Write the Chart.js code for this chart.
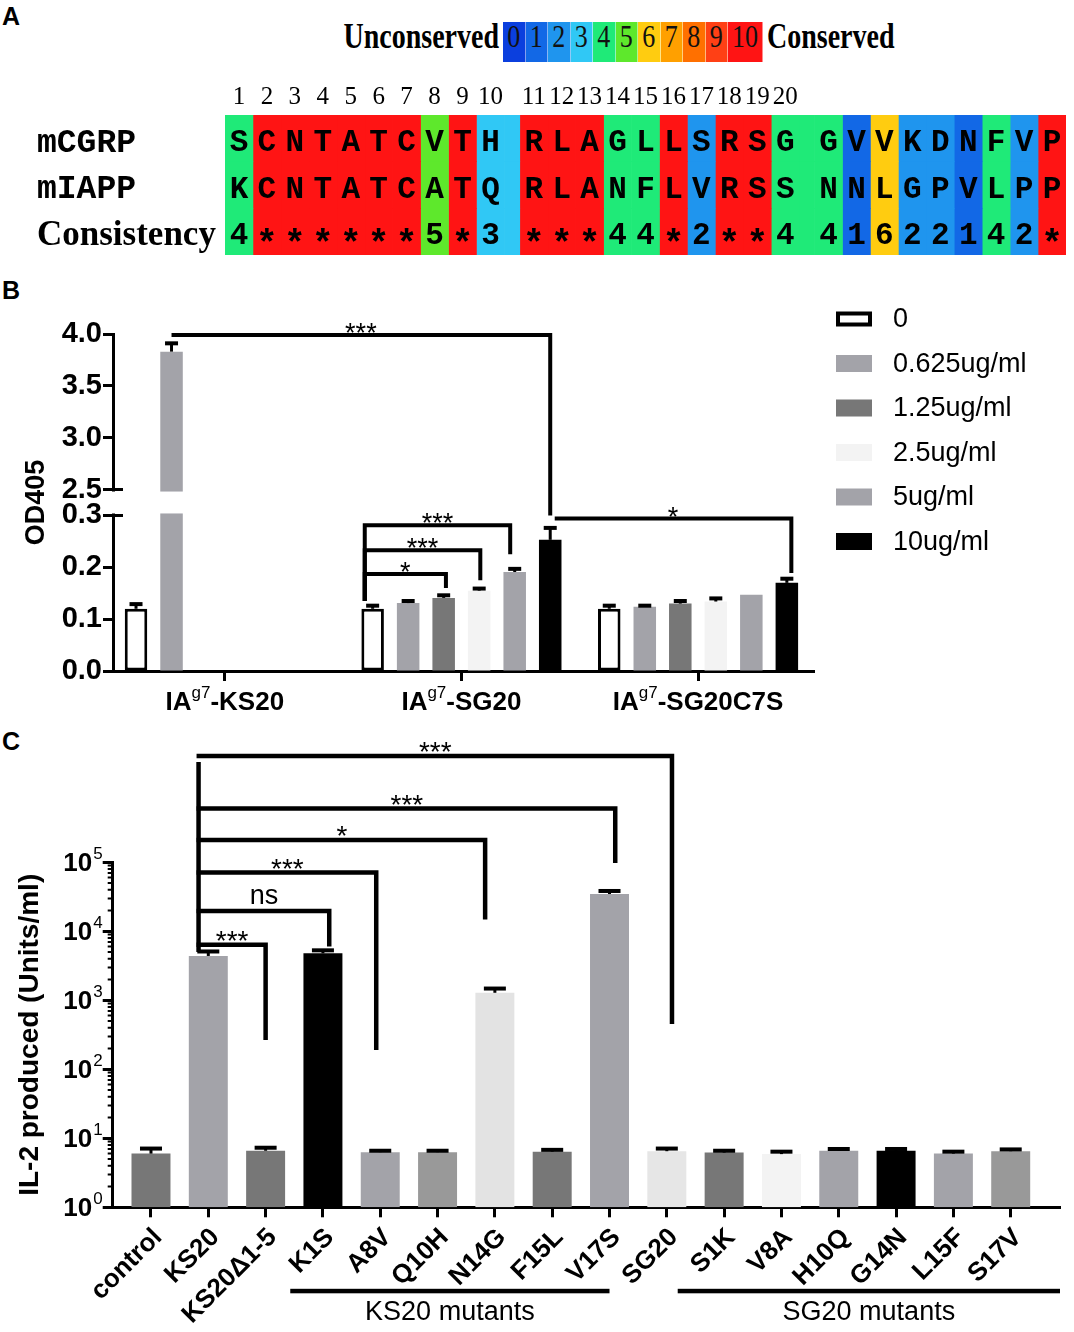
<!DOCTYPE html>
<html>
<head>
<meta charset="utf-8">
<title>Figure</title>
<script src="https://cdn.jsdelivr.net/npm/chart.js@4.4.1/dist/chart.umd.min.js"></script>
<style>
html,body{margin:0;padding:0;background:#fff;}
body{width:1074px;height:1332px;position:relative;overflow:hidden;}
canvas{position:absolute;left:0;}
.panel{position:absolute;left:2px;font:bold 25px 'Liberation Sans',Arial,sans-serif;color:#000;}
.keytxt{position:absolute;top:22px;height:40px;line-height:40px;font:bold 28px 'Liberation Serif',serif;color:#000;transform:scaleY(1.25);white-space:nowrap;}
#keyBoxes{position:absolute;left:503px;top:22px;height:40px;display:flex;}
#keyBoxes div{height:40px;line-height:40px;text-align:center;font:26px 'Liberation Serif',serif;color:#111;box-sizing:border-box;border-right:1px solid rgba(255,255,255,0.5);}
#keyBoxes span{display:inline-block;transform:scaleY(1.25);}
</style>
</head>
<body>
<div class="panel" style="top:2px">A</div>
<div class="panel" style="top:276px">B</div>
<div class="panel" style="top:727px">C</div>
<div class="keytxt" style="left:0;width:499px;text-align:right">Unconserved</div>
<div id="keyBoxes"></div>
<div class="keytxt" style="left:767px">Conserved</div>
<canvas id="cA" width="1074" height="185" style="top:80px"></canvas>
<canvas id="cB" width="1074" height="440" style="top:280px"></canvas>
<canvas id="cC" width="1074" height="612" style="top:720px"></canvas>
<script>
Chart.defaults.font.family = "'Liberation Sans', Arial, sans-serif";
Chart.defaults.color = '#000';
Chart.defaults.animation = false;

/* ================= Panel A data ================= */
const rowNames = ['mCGRP', 'mIAPP', 'Consistency'];
const seqCGRP = ['S','C','N','T','A','T','C','V','T','H','-','R','L','A','G','L','L','S','R','S','G','-','G','V','V','K','D','N','F','V','P'];
const seqIAPP = ['K','C','N','T','A','T','C','A','T','Q','-','R','L','A','N','F','L','V','R','S','S','-','N','N','L','G','P','V','L','P','P'];
const consensus = ['4','*','*','*','*','*','*','5','*','3','-','*','*','*','4','4','*','2','*','*','4','-','4','1','6','2','2','1','4','2','*'];
const positionLabels = ['1','2','3','4','5','6','7','8','9','10','11','12','13','14','15','16','17','18','19','20'];
const keyLevels = ['0','1','2','3','4','5','6','7','8','9','10'];
const keyColors = ['#0b3fde','#1268e6','#1f95ee','#30c8f5','#1fea78','#5ee82c','#ffcc10','#ffa000','#ff7000','#ff4015','#ff1414'];

/* ================= Panel B data ================= */
const groupsB = ['-KS20', '-SG20', '-SG20C7S'];
const groupPrefixB = 'IA';
const groupSupB = 'g7';
const concLabels = ['0', '0.625ug/ml', '1.25ug/ml', '2.5ug/ml', '5ug/ml', '10ug/ml'];
const od_0     = [0.120, 0.120, 0.120];
const od_0625  = [3.83,  0.131, 0.124];
const od_125   = [null,  0.141, 0.130];
const od_25    = [null,  0.155, 0.134];
const od_5     = [null,  0.191, 0.147];
const od_10    = [null,  0.253, 0.170];
const up_0     = [0.129, 0.126, 0.126];
const up_0625  = [3.91,  0.135, 0.126];
const up_125   = [null,  0.146, 0.135];
const up_25    = [null,  0.159, 0.140];
const up_5     = [null,  0.197, null];
const up_10    = [null,  0.276, 0.178];
const yTicksB = [0, 0.1, 0.2, 0.3, 2.5, 3.0, 3.5, 4.0];
const yTickLabelsB = ['0.0','0.1','0.2','0.3','2.5','3.0','3.5','4.0'];
const colorsB = ['#ffffff', '#a3a3a9', '#777777', '#f3f3f3', '#a3a3a9', '#000000'];
// brackets: ends = [group, series, offset in bar widths]
const bracketsB = [
  {a:[0,1,0],     b:[1,5,0],     h:3.99,  aEnd:null,  bEnd:0.30,  label:'***'},
  {a:[1,0,-0.35], b:[1,2,0.1],   h:0.187, aEnd:0.135, bEnd:0.160, label:'*'},
  {a:[1,0,-0.35], b:[1,3,0.05],  h:0.233, aEnd:0.135, bEnd:0.175, label:'***'},
  {a:[1,0,-0.35], b:[1,4,-0.2],  h:0.281, aEnd:0.135, bEnd:0.225, label:'***'},
  {a:[1,5,0.2],   b:[2,5,0.2],   h:0.294, aEnd:null,  bEnd:0.189, label:'*'}
];

/* ================= Panel C data ================= */
const peptidesC = ['control','KS20','KS20\u03941-5','K1S','A8V','Q10H','N14G','F15L','V17S','SG20','S1K','V8A','H10Q','G14N','L15F','S17V'];
const il2Mean  = [6.0, 4390, 6.6, 4790, 6.3, 6.3, 1285, 6.4, 34700, 6.5, 6.2, 5.9, 6.6, 6.6, 6.0, 6.5];
const il2Upper = [7.1, 5100, 7.3, 5300, 6.6, 6.6, 1480, 6.8, 38400, 7.1, 6.6, 6.4, 7.0, 7.0, 6.4, 6.9];
const il2Colors = ['#777777','#a3a3a9','#777777','#000000','#a3a3a9','#999999','#e3e3e3','#777777','#a3a3a9','#e6e6e6','#777777','#f3f3f3','#a3a3a9','#000000','#a3a3a9','#999999'];
const yPowersC = [0,1,2,3,4,5];
const groupsC = [{label:'KS20 mutants', first:'K1S', last:'V17S'}, {label:'SG20 mutants', first:'S1K', last:'S17V'}];
const bracketOriginC = {name:'KS20', top:2.84e6, bottom:5000};
const bracketsC = [
  {to:'SG20',     h:3.47e6, end:452,    label:'***'},
  {to:'V17S',     h:6.0e5,  end:9.8e4,  label:'***'},
  {to:'N14G',     h:2.1e5,  end:1.48e4, label:'*'},
  {to:'A8V',      h:7.1e4,  end:190,    label:'***'},
  {to:'K1S',      h:1.97e4, end:6000,   label:'ns'},
  {to:'KS20\u03941-5', h:6.4e3, end:266, label:'***'}
];
const bracketDxC = {'SG20':0.09,'V17S':0.10,'N14G':-0.17,'A8V':-0.07,'K1S':0.11,'KS20\u03941-5':0};

/* ================= Key (colour scale) ================= */
const kb = document.getElementById('keyBoxes');
keyLevels.forEach((lv, i) => {
  const d = document.createElement('div');
  d.style.width = (lv.length > 1 ? 35 : 22.5) + 'px';
  d.style.background = keyColors[i];
  d.innerHTML = '<span>' + lv + '</span>';
  kb.appendChild(d);
});

/* ================= Panel A chart ================= */
const colStart = [], colEnd = [];
let acc = 0;
seqCGRP.forEach(c => { colStart.push(acc); acc += (c === '-' ? 0.55 : 1); colEnd.push(acc); });
const totalW = acc;
const levelOf = [];
consensus.forEach((c, j) => levelOf.push(c === '-' ? levelOf[j - 1] : (c === '*' ? 10 : +c)));
const letterCols = [];
seqCGRP.forEach((c, j) => { if (c !== '-') letterCols.push(colStart[j] + 0.5); });
const headerCenters = letterCols.slice(0, positionLabels.length);

const alignText = {
  id: 'alignText',
  afterDatasetsDraw(chart) {
    const {ctx, scales: {x, y}} = chart;
    ctx.save();
    ctx.fillStyle = '#000';
    ctx.textAlign = 'center';
    ctx.textBaseline = 'middle';
    [seqCGRP, seqIAPP, consensus].forEach((row, r) => {
      const yc = y.getPixelForValue(r) + 5;
      row.forEach((c, j) => {
        if (c === '-') return;
        const xc = x.getPixelForValue(colStart[j] + 0.5);
        if (c === '*') {
          ctx.font = 'bold 36px "Liberation Mono", monospace';
          ctx.fillText(c, xc, yc + 9);
        } else {
          ctx.font = 'bold 31px "Liberation Mono", monospace';
          ctx.fillText(c, xc, yc);
        }
      });
    });
    ctx.textAlign = 'left';
    rowNames.forEach((n, r) => {
      ctx.font = r === 2 ? 'bold 35px "Liberation Serif", serif' : 'bold 33px "Liberation Mono", monospace';
      ctx.fillText(n, 37, y.getPixelForValue(r) + (r === 2 ? 4 : 5));
    });
    ctx.restore();
  }
};

new Chart(document.getElementById('cA'), {
  type: 'bar',
  data: {
    labels: rowNames,
    datasets: seqCGRP.map((c, j) => ({
      data: rowNames.map(() => [colStart[j], colEnd[j]]),
      backgroundColor: keyColors[levelOf[j]],
      borderWidth: 0
    }))
  },
  options: {
    indexAxis: 'y',
    responsive: false,
    events: [],
    layout: {padding: {left: 0, right: 8, top: 0, bottom: 10}},
    plugins: {legend: {display: false}, tooltip: {enabled: false}},
    datasets: {bar: {grouped: false, barPercentage: 1, categoryPercentage: 1}},
    scales: {
      x: {
        type: 'linear', position: 'top', min: 0, max: totalW,
        grid: {display: false, drawTicks: false}, border: {display: false},
        afterBuildTicks: s => { s.ticks = headerCenters.map(v => ({value: v})); },
        afterFit: s => { s.height = 35; },
        ticks: {autoSkip: false, maxRotation: 0, minRotation: 0, padding: 3,
          font: {family: "'Liberation Serif', serif", size: 25}, color: '#000',
          callback: (v, i) => positionLabels[i]}
      },
      y: {
        type: 'category', grid: {display: false}, border: {display: false},
        ticks: {display: false},
        afterFit: s => { s.width = 225; }
      }
    }
  },
  plugins: [alignText]
});

/* ================= Panel B chart ================= */
const GAP = 26 / 156;
const tB = v => v <= 0.3 ? v / 0.3 : 1 + GAP + (v - 2.5) / 1.5;
const seriesB = [od_0, od_0625, od_125, od_25, od_5, od_10];
const upperB = [up_0, up_0625, up_125, up_25, up_5, up_10];

function drawSupLabel(ctx, cx, baseY, parts) {
  let w = 0;
  parts.forEach(p => { ctx.font = p.font; p.w = ctx.measureText(p.t).width; w += p.w; });
  let xx = cx - w / 2;
  ctx.textAlign = 'left';
  ctx.textBaseline = 'alphabetic';
  parts.forEach(p => { ctx.font = p.font; ctx.fillText(p.t, xx, baseY + p.dy); xx += p.w; });
}

const plugB = {
  id: 'plugB',
  afterDatasetsDraw(chart) {
    const {ctx, chartArea: ca, scales: {x, y}} = chart;
    ctx.save();
    ctx.strokeStyle = '#000';
    ctx.fillStyle = '#000';
    ctx.lineWidth = 3;
    upperB.forEach((arr, d) => {
      const meta = chart.getDatasetMeta(d);
      arr.forEach((u, g) => {
        if (u == null) return;
        const el = meta.data[g];
        const yt = y.getPixelForValue(tB(u));
        ctx.beginPath();
        ctx.moveTo(el.x, el.y); ctx.lineTo(el.x, yt);
        ctx.stroke();
        ctx.fillRect(el.x - 6.5, yt - 2, 13, 4);
      });
    });
    const y25 = y.getPixelForValue(tB(2.5)), y03 = y.getPixelForValue(tB(0.3));
    ctx.fillStyle = '#fff';
    ctx.fillRect(ca.left - 3, y25 + 2, ca.right - ca.left + 3, y03 - y25 - 4);
    ctx.beginPath();
    ctx.moveTo(ca.left, y25); ctx.lineTo(ca.left + 10, y25);
    ctx.moveTo(ca.left, y03); ctx.lineTo(ca.left + 10, y03);
    ctx.stroke();
    ctx.restore();
  },
  afterDraw(chart) {
    const {ctx, chartArea: ca, scales: {x, y}} = chart;
    ctx.save();
    ctx.fillStyle = '#000';
    ctx.strokeStyle = '#000';
    // brackets
    const px = e => { const el = chart.getDatasetMeta(e[1]).data[e[0]]; return el.x + e[2] * el.width; };
    ctx.lineWidth = 4; ctx.lineJoin = 'miter'; ctx.lineCap = 'butt';
    bracketsB.forEach(b => {
      const xa = px(b.a), xb = px(b.b), yh = y.getPixelForValue(tB(b.h));
      ctx.beginPath();
      if (b.aEnd != null) { ctx.moveTo(xa, y.getPixelForValue(tB(b.aEnd))); ctx.lineTo(xa, yh); }
      else ctx.moveTo(xa, yh);
      ctx.lineTo(xb, yh);
      if (b.bEnd != null) ctx.lineTo(xb, y.getPixelForValue(tB(b.bEnd)));
      ctx.stroke();
      ctx.font = '27px "Liberation Sans", Arial';
      ctx.textAlign = 'center'; ctx.textBaseline = 'alphabetic';
      ctx.fillText(b.label, (xa + xb) / 2, yh + 7);
    });
    // legend
    concLabels.forEach((lab, i) => {
      const yc = ca.top - 15 + 44.5 * i;
      const bx = ca.right + 22;
      if (i === 0) {
        ctx.fillStyle = '#fff'; ctx.fillRect(bx, yc - 7, 36, 14);
        ctx.lineWidth = 4; ctx.strokeRect(bx + 2, yc - 5.5, 32, 11);
      } else {
        ctx.fillStyle = colorsB[i]; ctx.fillRect(bx, yc - 8.5, 36, 17);
      }
      ctx.fillStyle = '#000';
      ctx.font = '27px "Liberation Sans", Arial';
      ctx.textAlign = 'left'; ctx.textBaseline = 'middle';
      ctx.fillText(lab, bx + 57, yc + 1);
    });
    // x labels
    groupsB.forEach((g, i) => {
      drawSupLabel(ctx, x.getPixelForValue(i), ca.bottom + 39, [
        {t: groupPrefixB, font: 'bold 26px "Liberation Sans", Arial', dy: 0},
        {t: groupSupB, font: '17px "Liberation Sans", Arial', dy: -12},
        {t: g, font: 'bold 26px "Liberation Sans", Arial', dy: 0}
      ]);
    });
    // y title
    ctx.translate(37, (ca.top + ca.bottom) / 2);
    ctx.rotate(-Math.PI / 2);
    ctx.font = 'bold 27px "Liberation Sans", Arial';
    ctx.textAlign = 'center'; ctx.textBaseline = 'middle';
    ctx.fillText('OD405', 0, 0);
    ctx.restore();
  }
};

const axisGrid = {display: true, offset: false, drawOnChartArea: false, drawTicks: true, tickLength: 10, tickWidth: 3, tickColor: '#000'};
const axisBorder = {display: true, width: 3, color: '#000'};

new Chart(document.getElementById('cB'), {
  type: 'bar',
  data: {
    datasets: seriesB.map((s, d) => ({
      label: concLabels[d],
      data: s.map((v, g) => ({x: g, y: v == null ? null : tB(v)})),
      backgroundColor: colorsB[d],
      borderColor: '#000',
      borderWidth: d === 0 ? 3 : 0,
      borderSkipped: false,
      categoryPercentage: 0.9006,
      barPercentage: 0.634
    }))
  },
  options: {
    responsive: false,
    events: [],
    layout: {padding: {left: 0, right: 260, top: 54, bottom: 0}},
    plugins: {legend: {display: false}, tooltip: {enabled: false}},
    scales: {
      x: {
        type: 'linear', min: -0.4725, max: 2.49, offset: false,
        grid: axisGrid, border: axisBorder, ticks: {display: false},
        afterBuildTicks: s => { s.ticks = groupsB.map((_, i) => ({value: i})); },
        afterFit: s => { s.height = 49; }
      },
      y: {
        type: 'linear', min: 0, max: tB(4.0),
        grid: axisGrid, border: axisBorder,
        ticks: {autoSkip: false, padding: 1, font: {size: 29, weight: 'bold'}, color: '#000',
          callback: (v, i) => yTickLabelsB[i]},
        afterBuildTicks: s => { s.ticks = yTicksB.map(v => ({value: tB(v)})); },
        afterFit: s => { s.width = 113; }
      }
    }
  },
  plugins: [plugB]
});

/* ================= Panel C chart ================= */
const plugC = {
  id: 'plugC',
  afterDatasetsDraw(chart) {
    const {ctx, scales: {y}} = chart;
    const meta = chart.getDatasetMeta(0);
    ctx.save();
    ctx.strokeStyle = '#000'; ctx.fillStyle = '#000'; ctx.lineWidth = 3;
    il2Upper.forEach((u, i) => {
      const el = meta.data[i];
      const yt = y.getPixelForValue(u);
      ctx.beginPath(); ctx.moveTo(el.x, el.y); ctx.lineTo(el.x, yt); ctx.stroke();
      ctx.fillRect(el.x - 11, yt - 2, 22, 4);
    });
    ctx.restore();
  },
  afterDraw(chart) {
    const {ctx, chartArea: ca, scales: {x, y}} = chart;
    ctx.save();
    ctx.fillStyle = '#000'; ctx.strokeStyle = '#000';
    // minor ticks
    ctx.lineWidth = 2;
    ctx.beginPath();
    for (let p = 0; p < 5; p++) for (let m = 2; m <= 9; m++) {
      const yy = y.getPixelForValue(m * Math.pow(10, p));
      ctx.moveTo(ca.left - 5, yy); ctx.lineTo(ca.left, yy);
    }
    ctx.stroke();
    // y tick labels 10^n
    yPowersC.forEach(p => {
      const yp = y.getPixelForValue(Math.pow(10, p));
      ctx.font = '17px "Liberation Sans", Arial';
      const ew = ctx.measureText(String(p)).width;
      const ex = ca.left - 10 - ew;
      ctx.textAlign = 'left'; ctx.textBaseline = 'alphabetic';
      ctx.fillText(String(p), ex, yp - 3);
      ctx.font = 'bold 26px "Liberation Sans", Arial';
      ctx.textAlign = 'right';
      ctx.fillText('10', ex - 1, yp + 9);
    });
    // x labels rotated
    ctx.font = 'bold 26px "Liberation Sans", Arial';
    ctx.textAlign = 'right'; ctx.textBaseline = 'middle';
    peptidesC.forEach((p, i) => {
      ctx.save();
      ctx.translate(x.getPixelForValue(i) + 7, ca.bottom + 26);
      ctx.rotate(-Math.PI / 4);
      ctx.fillText(p, 0, 0);
      ctx.restore();
    });
    // group lines
    const ext = {'K1S': -0.57, 'V17S': 0.0, 'S1K': -0.81, 'S17V': 0.86};
    groupsC.forEach(g => {
      const x1 = x.getPixelForValue(peptidesC.indexOf(g.first) + ext[g.first]);
      const x2 = x.getPixelForValue(peptidesC.indexOf(g.last) + ext[g.last]);
      ctx.fillRect(x1, ca.bottom + 81.5, x2 - x1, 4.5);
      ctx.font = '27px "Liberation Sans", Arial';
      ctx.textAlign = 'center'; ctx.textBaseline = 'middle';
      ctx.fillText(g.label, (x1 + x2) / 2, ca.bottom + 105);
    });
    // brackets
    ctx.lineWidth = 4.5; ctx.lineJoin = 'miter'; ctx.lineCap = 'butt';
    const xL = x.getPixelForValue(peptidesC.indexOf(bracketOriginC.name) - 0.17);
    ctx.beginPath();
    ctx.moveTo(xL, y.getPixelForValue(bracketOriginC.top));
    ctx.lineTo(xL, y.getPixelForValue(bracketOriginC.bottom));
    ctx.stroke();
    bracketsC.forEach(b => {
      const xb = x.getPixelForValue(peptidesC.indexOf(b.to) + bracketDxC[b.to]);
      const yh = y.getPixelForValue(b.h);
      ctx.beginPath();
      ctx.moveTo(xL - 2, yh); ctx.lineTo(xb, yh); ctx.lineTo(xb, y.getPixelForValue(b.end));
      ctx.stroke();
      ctx.textAlign = 'center'; ctx.textBaseline = 'alphabetic';
      if (b.label === 'ns') {
        ctx.font = '27px "Liberation Sans", Arial';
        ctx.fillText(b.label, (xL + xb) / 2, yh - 7);
      } else {
        ctx.font = '28px "Liberation Sans", Arial';
        ctx.fillText(b.label, (xL + xb) / 2, yh + 5);
      }
    });
    // y title
    ctx.translate(30, (ca.top + ca.bottom) / 2);
    ctx.rotate(-Math.PI / 2);
    ctx.font = 'bold 28px "Liberation Sans", Arial';
    ctx.textAlign = 'center'; ctx.textBaseline = 'middle';
    ctx.fillText('IL-2 produced (Units/ml)', 0, 0);
    ctx.restore();
  }
};

new Chart(document.getElementById('cC'), {
  type: 'bar',
  data: {
    datasets: [{
      data: il2Mean.map((v, i) => ({x: i, y: v})),
      backgroundColor: il2Colors,
      borderWidth: 0,
      categoryPercentage: 1,
      barPercentage: 0.68
    }]
  },
  options: {
    responsive: false,
    events: [],
    layout: {padding: {left: 0, right: 14, top: 142.3, bottom: 0}},
    plugins: {legend: {display: false}, tooltip: {enabled: false}},
    scales: {
      x: {
        type: 'linear', min: -0.668, max: 15.86, offset: false,
        grid: axisGrid, border: axisBorder, ticks: {display: false},
        afterBuildTicks: s => { s.ticks = peptidesC.map((_, i) => ({value: i})); },
        afterFit: s => { s.height = 124.7; }
      },
      y: {
        type: 'logarithmic', min: 1, max: 1e5,
        grid: axisGrid, border: axisBorder, ticks: {display: false},
        afterBuildTicks: s => { s.ticks = yPowersC.map(p => ({value: Math.pow(10, p), major: true})); },
        afterFit: s => { s.width = 112.7; }
      }
    }
  },
  plugins: [plugC]
});
</script>
</body>
</html>
